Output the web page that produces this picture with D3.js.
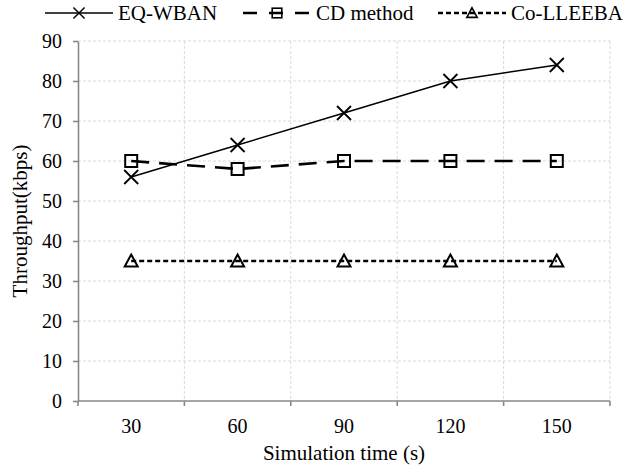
<!DOCTYPE html>
<html>
<head>
<meta charset="utf-8">
<script src="https://cdn.jsdelivr.net/npm/d3@7"></script>
<style>
    body { margin: 0; background: #fff; }
    svg text { font-family: "Times New Roman", "Liberation Serif", Times, "DejaVu Serif", serif; fill: #000; }
    .eg-grid line { stroke: #d9d9d9; stroke-dasharray: 3,2; stroke-width: 1; }
    .eg-axis path, .eg-axis line { stroke: #898989; stroke-width: 1.6; }
</style>
</head>
<body>
<svg id="eg-svg"></svg>
<script>
var categories = ["30", "60", "90", "120", "150"];
var eqWban = [56, 64, 72, 80, 84];
var cdMethod = [60, 58, 60, 60, 60];
var coLleeba = [35, 35, 35, 35, 35];
var yTicks = [0, 10, 20, 30, 40, 50, 60, 70, 80, 90];

var fontFamily = "'Times New Roman', 'Liberation Serif', Times, 'DejaVu Serif', serif";
var margin = { top: 41, right: 18, bottom: 68, left: 78 };
var width = 628 - margin.left - margin.right;
var height = 469 - margin.top - margin.bottom;

var root = d3.select("#eg-svg")
    .attr("width", 628)
    .attr("height", 469)
    .attr("font-family", fontFamily);
var svg = root.append("g")
    .attr("transform", "translate(" + margin.left + "," + margin.top + ")");

var xScale = d3.scaleBand()
    .domain(categories)
    .range([0, width]);
var yScale = d3.scaleLinear()
    .domain([0, 90])
    .range([height, 0]);

var series = [
    { name: "EQ-WBAN", values: eqWban, marker: "cross", dash: null, width: 1.5 },
    { name: "CD method", values: cdMethod, marker: "square", dash: "18,10", width: 2.6 },
    { name: "Co-LLEEBA", values: coLleeba, marker: "triangle", dash: "5,3", width: 2.4 }
];

// band boundaries for vertical grid and x ticks
var bounds = categories.map(function(c) { return xScale(c); }).concat([width]);

// grid
var grid = svg.append("g").attr("class", "eg-grid");
grid.selectAll(".h").data(yTicks.slice(1)).enter().append("line")
    .attr("x1", 0).attr("x2", width)
    .attr("y1", function(d) { return yScale(d); })
    .attr("y2", function(d) { return yScale(d); });
grid.selectAll(".v").data(bounds.slice(1)).enter().append("line")
    .attr("x1", function(d) { return d; }).attr("x2", function(d) { return d; })
    .attr("y1", 0).attr("y2", height);

// y axis
var yAxis = d3.axisLeft(yScale)
    .tickValues(yTicks)
    .tickSize(5)
    .tickSizeOuter(0)
    .tickPadding(11);
svg.append("g")
    .attr("class", "eg-axis")
    .call(yAxis)
    .attr("font-family", fontFamily)
    .call(function(g) { g.selectAll("text").attr("font-size", 20).attr("fill", "#000"); });

// x axis line and boundary ticks
var xg = svg.append("g").attr("class", "eg-axis")
    .attr("transform", "translate(0," + height + ")");
xg.append("path").attr("d", "M0,0H" + width);
xg.selectAll("line").data(bounds).enter().append("line")
    .attr("x1", function(d) { return d; }).attr("x2", function(d) { return d; })
    .attr("y1", 0).attr("y2", 5);
xg.selectAll("text").data(categories).enter().append("text")
    .attr("x", function(d) { return xScale(d) + xScale.bandwidth() / 2; })
    .attr("y", 32)
    .attr("text-anchor", "middle")
    .attr("font-size", 20)
    .text(function(d) { return d; });

// axis titles
svg.append("text")
    .attr("transform", "rotate(-90)")
    .attr("x", -height / 2)
    .attr("y", -margin.left + 27)
    .attr("text-anchor", "middle")
    .attr("font-size", 21)
    .text("Throughput(kbps)");
svg.append("text")
    .attr("x", width / 2)
    .attr("y", height + 59)
    .attr("text-anchor", "middle")
    .attr("font-size", 21)
    .text("Simulation time (s)");

function drawMarker(g, type, x, y) {
    if (type == "cross") {
        var s = 7;
        g.append("path")
            .attr("d", "M" + (x - s) + "," + (y - s) + "L" + (x + s) + "," + (y + s) +
                "M" + (x - s) + "," + (y + s) + "L" + (x + s) + "," + (y - s))
            .attr("stroke", "#000").attr("stroke-width", 1.8).attr("fill", "none");
    } else if (type == "square") {
        g.append("rect")
            .attr("x", x - 6).attr("y", y - 6)
            .attr("width", 12).attr("height", 12)
            .attr("stroke", "#000").attr("stroke-width", 2).attr("fill", "none");
    } else if (type == "triangle") {
        g.append("path")
            .attr("d", "M" + x + "," + (y - 6.5) + "L" + (x + 6.5) + "," + (y + 5.5) +
                "L" + (x - 6.5) + "," + (y + 5.5) + "Z")
            .attr("stroke", "#000").attr("stroke-width", 2).attr("fill", "none");
    }
}

var line = d3.line()
    .x(function(d, i) { return xScale(categories[i]) + xScale.bandwidth() / 2; })
    .y(function(d) { return yScale(d); });

series.forEach(function(s) {
    var g = svg.append("g").attr("class", "eg-lines");
    g.append("path")
        .datum(s.values)
        .attr("d", line)
        .attr("fill", "none")
        .attr("stroke", "#000")
        .attr("stroke-width", s.width)
        .attr("stroke-dasharray", s.dash);
    s.values.forEach(function(v, i) {
        drawMarker(g, s.marker, xScale(categories[i]) + xScale.bandwidth() / 2, yScale(v));
    });
});

// legend
var legendPos = [45, 243, 438];
var legend = root.append("g").attr("class", "eg-legend");
series.forEach(function(s, i) {
    var item = legend.append("g")
        .attr("transform", "translate(" + legendPos[i] + ",13)");
    item.append("line")
        .attr("x1", 0).attr("x2", 68)
        .attr("y1", 0).attr("y2", 0)
        .attr("stroke", "#000")
        .attr("stroke-width", s.width)
        .attr("stroke-dasharray", s.dash == "18,10" ? "14,12" : s.dash);
    var mg = item.append("g").attr("transform", "scale(0.8) translate(" + (34 / 0.8) + ",0)");
    drawMarker(mg, s.marker, 0, 0);
    item.append("text")
        .attr("x", 73)
        .attr("y", 7)
        .attr("font-size", 21)
        .text(s.name);
});
</script>
</body>
</html>
